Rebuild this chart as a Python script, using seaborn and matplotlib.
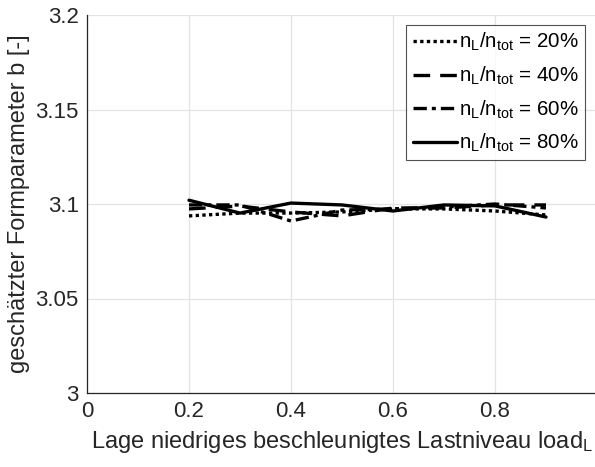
import matplotlib
matplotlib.use("Agg")
import matplotlib.pyplot as plt
import seaborn as sns
import pandas as pd

# Position of the low accelerated load level
load_pos = [0.2, 0.3, 0.4, 0.5, 0.6, 0.7, 0.8, 0.9]

# Estimated shape parameter b for each share n_L/n_tot
b_20 = [3.0937, 3.0952, 3.0952, 3.0958, 3.0974, 3.0974, 3.0963, 3.0942]
b_40 = [3.0974, 3.0989, 3.0958, 3.0937, 3.0979, 3.0979, 3.0995, 3.0995]
b_60 = [3.0995, 3.0995, 3.0910, 3.0968, 3.0974, 3.0984, 3.1000, 3.0979]
b_80 = [3.1020, 3.0952, 3.1005, 3.0995, 3.0963, 3.0995, 3.0990, 3.0931]

shares = ["20%", "40%", "60%", "80%"]
series = [b_20, b_40, b_60, b_80]

x_ticks = [0, 0.2, 0.4, 0.6, 0.8]
x_tick_labels = ["0", "0.2", "0.4", "0.6", "0.8"]
y_ticks = [3.0, 3.05, 3.1, 3.15, 3.2]
y_tick_labels = ["3", "3.05", "3.1", "3.15", "3.2"]

rows = []
for share, vals in zip(shares, series):
    for x, v in zip(load_pos, vals):
        rows.append({"load": x, "b": v, "share": share})
df = pd.DataFrame(rows)

sns.set_style("white")
plt.rcParams["font.family"] = ["Liberation Sans", "DejaVu Sans"]
plt.rcParams["mathtext.default"] = "regular"
text_col = "#262626"

fig = plt.figure(figsize=(5.95, 4.67), dpi=100)
ax = fig.add_axes([87 / 595, 74 / 467, 510 / 595, 378 / 467])

styles = {
    "20%": (0, (1, 1)),
    "40%": (0, (5, 3)),
    "60%": (0, (4, 1.5, 1.2, 1.5)),
    "80%": "-",
}

for share in shares:
    sub = df[df["share"] == share]
    sns.lineplot(
        data=sub, x="load", y="b", ax=ax, color="black", linewidth=2.4,
        linestyle=styles[share],
        label=r"$n_L/n_{tot}$ = " + share,
    )

ax.set_xlim(0, 1)
ax.set_ylim(3.0, 3.2)
ax.set_xticks(x_ticks)
ax.set_xticklabels(x_tick_labels)
ax.set_yticks(y_ticks)
ax.set_yticklabels(y_tick_labels)

ax.grid(True, color="#e3e3e3", linewidth=0.9)
ax.set_axisbelow(True)
for side in ["top", "right"]:
    ax.spines[side].set_visible(False)
for side in ["left", "bottom"]:
    ax.spines[side].set_color(text_col)
    ax.spines[side].set_linewidth(0.9)

ax.tick_params(axis="both", direction="in", length=5, width=0.8,
               colors=text_col, labelsize=16, pad=6)

ax.set_xlabel(r"Lage niedriges beschleunigtes Lastniveau load$_L$",
              fontsize=17, color=text_col, labelpad=5)
ax.set_ylabel("geschätzter Formparameter b [-]", fontsize=17,
              color=text_col, labelpad=4)

leg = ax.legend(loc="upper right", bbox_to_anchor=(585 / 595, 1 - 25 / 467),
                bbox_transform=fig.transFigure,
                fontsize=14.8, frameon=True, fancybox=False,
                handlelength=2.15, handletextpad=0.12, labelspacing=0.55,
                borderpad=0.3, borderaxespad=0)
leg.get_frame().set_edgecolor("#262626")
leg.get_frame().set_linewidth(0.8)
for t in leg.get_texts():
    t.set_color("black")

fig.savefig("out.png", dpi=100)
